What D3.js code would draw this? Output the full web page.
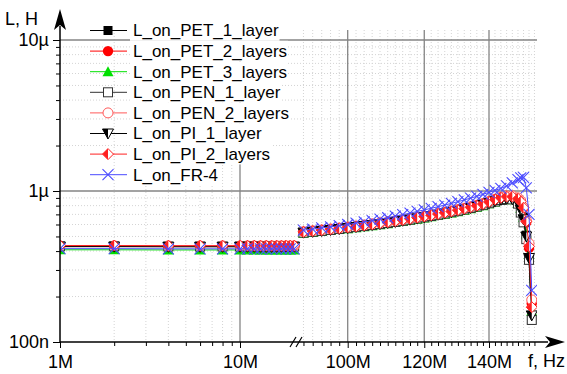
<!DOCTYPE html>
<html>
<head>
<meta charset="utf-8">
<script src="https://cdn.jsdelivr.net/npm/d3@7"></script>
<style>
    body { margin: 0; background: #fff; }
    svg { display: block; font-family: "Liberation Sans", Arial, sans-serif; }
</style>
</head>
<body>
<svg id="chart" width="567" height="374"></svg>
<script>
// frequencies in MHz, the axis is broken between the two parts
const freqLeft = [1, 2, 4, 6, 8, 10, 11, 12, 13, 14, 15, 16, 17, 18, 19, 20];
const freqRight = [90, 92, 94, 96, 98, 100, 102, 104, 106, 108, 110, 112, 114, 116, 118, 120,
    122, 124, 126, 128, 130, 132, 134, 136, 138, 140, 142, 144, 146, 148, 150, 151, 152, 153, 154, 155];

const seriesNames = ['L_on_PET_1_layer', 'L_on_PET_2_layers', 'L_on_PET_3_layers', 'L_on_PEN_1_layer',
    'L_on_PEN_2_layers', 'L_on_PI_1_layer', 'L_on_PI_2_layers', 'L_on_FR-4'];

// inductance in uH, first freqLeft.length values belong to the left part
const pet1 = [0.430, 0.430, 0.429, 0.429, 0.429, 0.429, 0.429, 0.429, 0.429, 0.429, 0.429, 0.429, 0.429, 0.429, 0.429, 0.429,
    0.530, 0.537, 0.544, 0.552, 0.560, 0.568, 0.577, 0.586, 0.595, 0.604, 0.614, 0.624, 0.635, 0.646, 0.658, 0.670,
    0.683, 0.696, 0.710, 0.724, 0.739, 0.755, 0.772, 0.790, 0.810, 0.832, 0.856, 0.877, 0.890, 0.888, 0.845, 0.770, 0.670, 0.510, 0.360, 0.140];
const pet2 = [0.432, 0.432, 0.431, 0.431, 0.431, 0.431, 0.431, 0.431, 0.431, 0.431, 0.431, 0.431, 0.431, 0.431, 0.431, 0.431,
    0.535, 0.542, 0.549, 0.557, 0.565, 0.573, 0.582, 0.591, 0.600, 0.610, 0.620, 0.630, 0.641, 0.652, 0.664, 0.676,
    0.689, 0.702, 0.716, 0.730, 0.745, 0.761, 0.778, 0.797, 0.818, 0.845, 0.875, 0.900, 0.915, 0.915, 0.885, 0.845, 0.770, 0.620, 0.420, 0.180];
const pet3 = [0.408, 0.408, 0.407, 0.407, 0.407, 0.407, 0.407, 0.407, 0.407, 0.407, 0.407, 0.407, 0.407, 0.407, 0.407, 0.407,
    0.525, 0.532, 0.539, 0.547, 0.555, 0.563, 0.571, 0.580, 0.589, 0.598, 0.608, 0.618, 0.628, 0.639, 0.650, 0.662,
    0.675, 0.688, 0.701, 0.715, 0.730, 0.745, 0.762, 0.780, 0.800, 0.822, 0.846, 0.866, 0.878, 0.876, 0.830, 0.770, 0.670, 0.520, 0.380, 0.160];
const pen1 = [0.430, 0.430, 0.429, 0.429, 0.429, 0.429, 0.429, 0.429, 0.429, 0.429, 0.429, 0.429, 0.429, 0.429, 0.429, 0.429,
    0.530, 0.537, 0.544, 0.552, 0.560, 0.568, 0.577, 0.586, 0.595, 0.604, 0.614, 0.624, 0.635, 0.646, 0.658, 0.670,
    0.683, 0.696, 0.710, 0.724, 0.739, 0.755, 0.772, 0.790, 0.810, 0.830, 0.852, 0.872, 0.885, 0.880, 0.825, 0.720, 0.620, 0.480, 0.350, 0.140];
const pen2 = [0.434, 0.434, 0.433, 0.433, 0.433, 0.433, 0.433, 0.433, 0.433, 0.433, 0.433, 0.433, 0.433, 0.433, 0.433, 0.433,
    0.538, 0.545, 0.552, 0.560, 0.568, 0.577, 0.586, 0.595, 0.605, 0.615, 0.625, 0.636, 0.647, 0.658, 0.670, 0.683,
    0.696, 0.710, 0.724, 0.738, 0.753, 0.769, 0.786, 0.805, 0.826, 0.853, 0.883, 0.910, 0.928, 0.930, 0.900, 0.860, 0.780, 0.640, 0.450, 0.190];
const pi1 = [0.428, 0.428, 0.427, 0.427, 0.427, 0.427, 0.427, 0.427, 0.427, 0.427, 0.427, 0.427, 0.427, 0.427, 0.427, 0.427,
    0.530, 0.537, 0.544, 0.552, 0.560, 0.568, 0.577, 0.586, 0.595, 0.604, 0.614, 0.624, 0.635, 0.646, 0.658, 0.670,
    0.683, 0.696, 0.710, 0.724, 0.739, 0.755, 0.772, 0.790, 0.810, 0.830, 0.854, 0.874, 0.886, 0.882, 0.835, 0.750, 0.650, 0.500, 0.360, 0.150];
const pi2 = [0.435, 0.435, 0.434, 0.434, 0.434, 0.434, 0.434, 0.434, 0.434, 0.434, 0.434, 0.434, 0.434, 0.434, 0.434, 0.434,
    0.536, 0.543, 0.550, 0.558, 0.566, 0.574, 0.583, 0.592, 0.602, 0.612, 0.622, 0.632, 0.643, 0.654, 0.666, 0.678,
    0.691, 0.704, 0.718, 0.732, 0.747, 0.763, 0.780, 0.799, 0.820, 0.847, 0.877, 0.903, 0.918, 0.918, 0.888, 0.850, 0.775, 0.630, 0.430, 0.170];
const fr4 = [0.415, 0.415, 0.414, 0.414, 0.414, 0.414, 0.414, 0.414, 0.414, 0.414, 0.414, 0.414, 0.414, 0.414, 0.414, 0.414,
    0.550, 0.559, 0.569, 0.579, 0.589, 0.600, 0.612, 0.624, 0.637, 0.651, 0.665, 0.681, 0.697, 0.714, 0.732, 0.750,
    0.768, 0.787, 0.807, 0.828, 0.850, 0.873, 0.897, 0.922, 0.950, 0.980, 1.010, 1.040, 1.080, 1.130, 1.190, 1.220, 1.230, 1.050, 0.700, 0.220];

const seriesValues = [pet1, pet2, pet3, pen1, pen2, pi1, pi2, fr4];
const seriesMarkers = ['square', 'circle', 'triangle', 'openSquare', 'openCircle', 'halfTriDown', 'halfDiamond', 'cross'];
const seriesColors = ['#000000', '#ff0000', '#00e000', '#333333', '#ff5a5a', '#000000', '#ff2020', '#4b4bff'];

const yTickValues = [0.1, 1, 10];
const yTickLabels = ['100n', '1\u00b5', '10\u00b5'];
const xLeftTicks = [1, 10];
const xLeftLabels = ['1M', '10M'];
const xRightTicks = [100, 120, 140];
const xRightLabels = ['100M', '120M', '140M'];

const svg = d3.select('#chart');
const plotLeft = 60, plotRight = 537, plotTop = 30, plotBottom = 342;

// Declare the scales: log on the left, stretched log on the right of the break
const xL = d3.scaleLog().domain([1, 20]).range([60, 60 + 180 * Math.log10(20)]);
const xR = d3.scaleLog().domain([100, 140]).range([347.7, 489]);
const y = d3.scaleLog().domain([0.1, 10]).range([342, 40]);

// minor grid
const minorY = [];
[0.1, 1].forEach((d) => { for (let k = 2; k <= 9; k++) minorY.push(d * k); });
const minorXL = [2, 3, 4, 5, 6, 7, 8, 9];
const minorXR = d3.range(90, 158, 2).filter((d) => !xRightTicks.includes(d));

const grid = svg.append('g');
grid.selectAll('.hm').data(minorY).join('line')
    .attr('x1', plotLeft).attr('x2', plotRight)
    .attr('y1', (d) => y(d)).attr('y2', (d) => y(d))
    .attr('stroke', '#d4d4d4').attr('stroke-dasharray', '1,2');
grid.selectAll('.vml').data(minorXL).join('line')
    .attr('x1', (d) => xL(d)).attr('x2', (d) => xL(d))
    .attr('y1', plotTop).attr('y2', plotBottom)
    .attr('stroke', '#d4d4d4').attr('stroke-dasharray', '1,2');
grid.selectAll('.vmr').data(minorXR).join('line')
    .attr('x1', (d) => xR(d)).attr('x2', (d) => xR(d))
    .attr('y1', plotTop).attr('y2', plotBottom)
    .attr('stroke', '#d4d4d4').attr('stroke-dasharray', '1,2');

// major grid
grid.selectAll('.hM').data([1, 10]).join('line')
    .attr('x1', plotLeft).attr('x2', plotRight)
    .attr('y1', (d) => y(d)).attr('y2', (d) => y(d))
    .attr('stroke', '#858585').attr('stroke-width', 1.3);
grid.selectAll('.vMl').data([10]).join('line')
    .attr('x1', (d) => xL(d)).attr('x2', (d) => xL(d))
    .attr('y1', plotTop).attr('y2', plotBottom)
    .attr('stroke', '#858585').attr('stroke-width', 1.3);
grid.selectAll('.vMr').data(xRightTicks).join('line')
    .attr('x1', (d) => xR(d)).attr('x2', (d) => xR(d))
    .attr('y1', plotTop).attr('y2', plotBottom)
    .attr('stroke', '#858585').attr('stroke-width', 1.3);

svg.append('clipPath').attr('id', 'clip')
    .append('rect').attr('x', plotLeft).attr('y', plotTop)
    .attr('width', plotRight - plotLeft).attr('height', plotBottom - plotTop + 6);

function drawMarker(g, type, color) {
    if (type === 'square') {
        g.append('rect').attr('x', -4.5).attr('y', -4.5).attr('width', 9).attr('height', 9).attr('fill', color);
    } else if (type === 'circle') {
        g.append('circle').attr('r', 5.2).attr('fill', color);
    } else if (type === 'triangle') {
        g.append('path').attr('d', 'M0,-5.5L5.5,4.5L-5.5,4.5Z').attr('fill', color);
    } else if (type === 'openSquare') {
        g.append('rect').attr('x', -4.5).attr('y', -4.5).attr('width', 9).attr('height', 9)
            .attr('fill', '#fff').attr('stroke', color).attr('stroke-width', 1);
    } else if (type === 'openCircle') {
        g.append('circle').attr('r', 5).attr('fill', '#fff').attr('stroke', color).attr('stroke-width', 1);
    } else if (type === 'halfTriDown') {
        g.append('path').attr('d', 'M-5.5,-4.5L5.5,-4.5L0,5.5Z').attr('fill', '#fff').attr('stroke', color);
        g.append('path').attr('d', 'M-5.5,-4.5L0,-4.5L0,5.5Z').attr('fill', color);
    } else if (type === 'halfDiamond') {
        g.append('path').attr('d', 'M0,-5.5L5.5,0L0,5.5L-5.5,0Z').attr('fill', '#fff').attr('stroke', color);
        g.append('path').attr('d', 'M0,-5.5L0,5.5L-5.5,0Z').attr('fill', color);
    } else if (type === 'cross') {
        g.append('path').attr('d', 'M-5.5,-5.5L5.5,5.5M-5.5,5.5L5.5,-5.5').attr('stroke', color).attr('stroke-width', 1.1).attr('fill', 'none');
    }
}

const plot = svg.append('g').attr('clip-path', 'url(#clip)');
const lineL = d3.line().x((d) => xL(d[0])).y((d) => y(d[1]));
const lineR = d3.line().x((d) => xR(d[0])).y((d) => y(d[1]));
const nLeft = freqLeft.length;

seriesValues.forEach((vals, i) => {
    const left = freqLeft.map((f, j) => [f, vals[j]]);
    const right = freqRight.map((f, j) => [f, vals[nLeft + j]]);
    const g = plot.append('g');
    g.append('path').attr('d', lineL(left)).attr('fill', 'none').attr('stroke', seriesColors[i]).attr('stroke-width', 1);
    g.append('path').attr('d', lineR(right)).attr('fill', 'none').attr('stroke', seriesColors[i]).attr('stroke-width', 1);
    left.forEach((d) => drawMarker(g.append('g').attr('transform', `translate(${xL(d[0])},${y(d[1])})`), seriesMarkers[i], seriesColors[i]));
    right.forEach((d) => drawMarker(g.append('g').attr('transform', `translate(${xR(d[0])},${y(d[1])})`), seriesMarkers[i], seriesColors[i]));
});

// Add the axes
const fmt = (vals, labels) => (d) => labels[vals.indexOf(d)];
const axisFont = (g) => g.call((s) => s.select('.domain').remove())
    .selectAll('text').attr('font-size', 18).attr('font-family', '"Liberation Sans", Arial, sans-serif').attr('fill', '#000');

svg.append('g').attr('transform', `translate(0,${plotBottom})`)
    .call(d3.axisBottom(xL).tickValues(xLeftTicks).tickFormat(fmt(xLeftTicks, xLeftLabels)).tickSize(6).tickPadding(7))
    .call(axisFont);
svg.append('g').attr('transform', `translate(0,${plotBottom})`)
    .call(d3.axisBottom(xL).tickValues(minorXL).tickFormat('').tickSize(4))
    .call(axisFont);
svg.append('g').attr('transform', `translate(0,${plotBottom})`)
    .call(d3.axisBottom(xR).tickValues(xRightTicks).tickFormat(fmt(xRightTicks, xRightLabels)).tickSize(6).tickPadding(7))
    .call(axisFont);
svg.append('g').attr('transform', `translate(0,${plotBottom})`)
    .call(d3.axisBottom(xR).tickValues(minorXR).tickFormat('').tickSize(4))
    .call(axisFont);
svg.append('g').attr('transform', `translate(${plotLeft},0)`)
    .call(d3.axisLeft(y).tickValues(yTickValues).tickFormat(fmt(yTickValues, yTickLabels)).tickSize(7).tickPadding(4))
    .call(axisFont);
svg.append('g').attr('transform', `translate(${plotLeft},0)`)
    .call(d3.axisLeft(y).tickValues(minorY).tickFormat('').tickSize(4))
    .call(axisFont);

// axis lines with arrows
svg.append('line').attr('x1', plotLeft).attr('x2', 548).attr('y1', plotBottom).attr('y2', plotBottom).attr('stroke', '#000').attr('stroke-width', 1.5);
svg.append('path').attr('d', `M565,${plotBottom}L545,${plotBottom - 6}L550,${plotBottom}L545,${plotBottom + 6}Z`).attr('fill', '#000');
svg.append('line').attr('x1', plotLeft).attr('x2', plotLeft).attr('y1', plotBottom).attr('y2', 26).attr('stroke', '#000').attr('stroke-width', 1.5);
svg.append('path').attr('d', `M${plotLeft},9L${plotLeft - 6},30L${plotLeft},25L${plotLeft + 6},30Z`).attr('fill', '#000');

// axis break
svg.append('path').attr('d', `M290,${plotBottom + 5}L296,${plotBottom - 5}M296,${plotBottom + 5}L302,${plotBottom - 5}`)
    .attr('stroke', '#000').attr('stroke-width', 1.2);

svg.append('text').attr('x', 5).attr('y', 25).attr('font-size', 18).text('L, H');
svg.append('text').attr('x', 565).attr('y', 367).attr('text-anchor', 'end').attr('font-size', 18).text('f, Hz');

// Legend
const legend = svg.append('g');
seriesNames.forEach((name, i) => {
    const ly = 30.5 + i * 20.6;
    const row = legend.append('g');
    const bg = row.append('rect').attr('fill', '#fff');
    const t = row.append('text').attr('x', 133).attr('y', ly).attr('dy', '0.35em').attr('font-size', 17).text(name);
    const w = t.node().getComputedTextLength();
    bg.attr('x', 130).attr('y', ly - 10.3).attr('width', w + 4).attr('height', 20.6);
    row.append('line').attr('x1', 90).attr('x2', 127).attr('y1', ly).attr('y2', ly).attr('stroke', seriesColors[i]);
    drawMarker(row.append('g').attr('transform', `translate(108,${ly})`), seriesMarkers[i], seriesColors[i]);
});
</script>
</body>
</html>
